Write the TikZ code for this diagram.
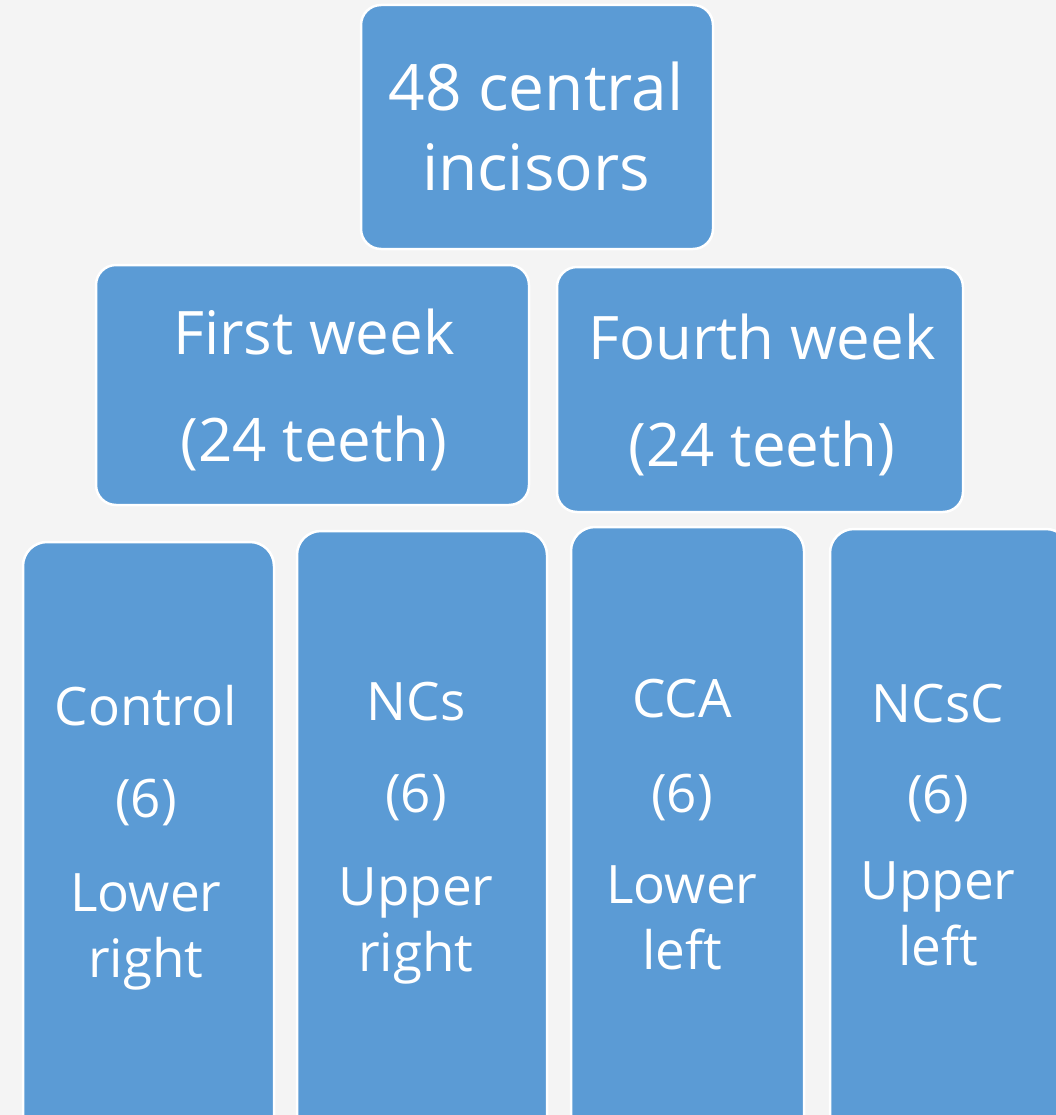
\documentclass[tikz,border=0pt]{standalone}
\usepackage{fontspec}
\setmainfont{Open Sans}
\definecolor{bg}{HTML}{F4F4F4}
\definecolor{boxblue}{HTML}{5B9BD5}
\tikzset{
  panel/.style={rectangle, fill=boxblue, draw=white, line width=2.5pt,
    rounded corners=20pt, inner sep=0pt},
  lowpanel/.style={panel, rounded corners=24pt},
  toptext/.style={anchor=north, inner sep=0pt, text=white, align=center,
    font=\fontsize{64}{80}\selectfont},
  midtext/.style={anchor=north, inner sep=0pt, text=white, align=center,
    font=\fontsize{60}{107}\selectfont},
  lowtext/.style={anchor=north, inner sep=0pt, text=white, align=center,
    font=\fontsize{53}{66}\selectfont},
}
\newcommand{\firstline}{\rule{0pt}{0.85em}}
\begin{document}
\begin{tikzpicture}[x=1pt,y=-1pt]
  \fill[bg] (0,0) rectangle (1056,1115);
  \useasboundingbox (0,0) rectangle (1056,1115);
  \clip (0,0) rectangle (1056,1115);
  % boxes
  \node[panel, minimum width=352pt, minimum height=244pt] (topbox) at (537,127) {};
  \node[panel, minimum width=433pt, minimum height=240pt] (firstbox) at (312.5,385) {};
  \node[panel, minimum width=406pt, minimum height=245pt] (fourthbox) at (760,389.5) {};
  \node[lowpanel, minimum width=251pt, minimum height=598pt] (controlbox) at (148.5,841) {};
  \node[lowpanel, minimum width=250pt, minimum height=609pt] (ncsbox) at (422,835.5) {};
  \node[lowpanel, minimum width=233pt, minimum height=613pt] (ccabox) at (687.5,833.5) {};
  \node[lowpanel, minimum width=240pt, minimum height=611pt] (ncscbox) at (950,834.5) {};
  % texts (first baseline minus 0.85em)
  \node[toptext] (top) at (536,{110-0.85*64}) {\firstline 48 central\\incisors};
  \node[midtext] (first) at (314,{354-0.85*60}) {\firstline First week\\(24 teeth)};
  \node[midtext] (fourth) at (762,{359-0.85*60}) {\firstline Fourth week\\(24 teeth)};
  \node[lowtext] (control) at (146,{725-0.85*53}) {\firstline Control\\[26pt](6)\\[28pt]Lower\\right};
  \node[lowtext] (ncs) at (416,{720-0.85*53}) {\firstline NCs\\[26pt](6)\\[27pt]Upper\\right};
  \node[lowtext] (cca) at (682,{717-0.85*53}) {\firstline CCA\\[29pt](6)\\[25pt]Lower\\left};
  \node[lowtext] (ncsc) at (938,{722-0.85*53}) {\firstline NCsC\\[25pt](6)\\[20pt]Upper\\left};
\end{tikzpicture}
\end{document}
